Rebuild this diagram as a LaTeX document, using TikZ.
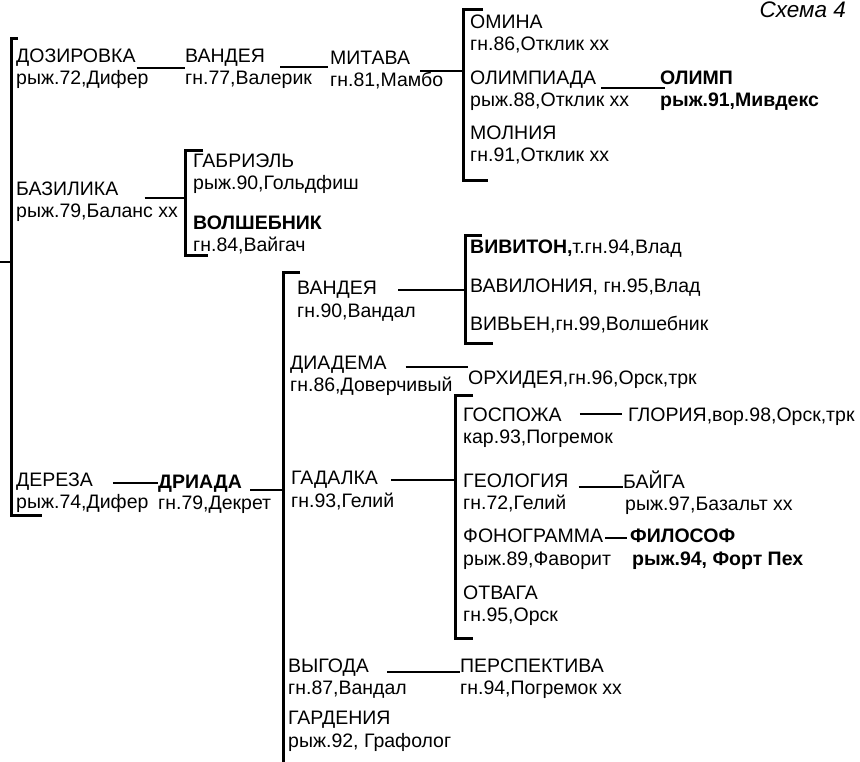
\documentclass[tikz,border=0pt]{standalone}
\usepackage{fontspec}
\setmainfont{Liberation Sans}

\begin{document}
\begin{tikzpicture}[x=1pt, y=-1pt, horse/.style={anchor=base west, inner sep=0pt, font=\fontsize{19.5}{22}\selectfont}, champ/.style={horse, font=\fontsize{19.5}{22}\selectfont\bfseries}, link/.style={line width=2.8pt}, bracket/.style={line width=3pt}]
\useasboundingbox (0,0) rectangle (860,761);
% nodes
\node[anchor=base east, inner sep=0pt, font=\fontsize{22.5}{24}\selectfont\itshape] (caption) at (846,17) {Схема 4};
\node[horse] (dozirovka) at (16,62) {ДОЗИРОВКА};
\node[horse] (dozirovka-i) at ([yshift=-22pt]dozirovka.base west) {рыж.72,Дифер};
\node[horse] (vandeya) at (185,62) {ВАНДЕЯ};
\node[horse] (vandeya-i) at ([yshift=-22pt]vandeya.base west) {гн.77,Валерик};
\node[horse] (mitava) at (330,64) {МИТАВА};
\node[horse] (mitava-i) at ([yshift=-22pt]mitava.base west) {гн.81,Мамбо};
\node[horse] (omina) at (470,28) {ОМИНА};
\node[horse] (omina-i) at ([yshift=-22pt]omina.base west) {гн.86,Отклик хх};
\node[horse] (olimpiada) at (470,84) {ОЛИМПИАДА};
\node[horse] (olimpiada-i) at ([yshift=-22pt]olimpiada.base west) {рыж.88,Отклик хх};
\node[horse] (molniya) at (470,139) {МОЛНИЯ};
\node[horse] (molniya-i) at ([yshift=-22pt]molniya.base west) {гн.91,Отклик хх};
\node[champ] (olimp) at (660,84) {ОЛИМП};
\node[champ] (olimp-i) at ([yshift=-22pt]olimp.base west) {рыж.91,Мивдекс};
\node[horse] (bazilika) at (16,195) {БАЗИЛИКА};
\node[horse] (bazilika-i) at ([yshift=-22pt]bazilika.base west) {рыж.79,Баланс хх};
\node[horse] (gabriel) at (193,167) {ГАБРИЭЛЬ};
\node[horse] (gabriel-i) at ([yshift=-22pt]gabriel.base west) {рыж.90,Гольдфиш};
\node[champ] (volshebnik) at (193,229) {ВОЛШЕБНИК};
\node[horse] (volshebnik-i) at ([yshift=-22pt]volshebnik.base west) {гн.84,Вайгач};
\node[horse] (dereza) at (16,486) {ДЕРЕЗА};
\node[horse] (dereza-i) at ([yshift=-22pt]dereza.base west) {рыж.74,Дифер};
\node[champ] (driada) at (158,488) {ДРИАДА};
\node[horse] (driada-i) at ([yshift=-21pt]driada.base west) {гн.79,Декрет};
\node[horse] (vandeya2) at (297,294) {ВАНДЕЯ};
\node[horse] (vandeya2-i) at ([yshift=-23pt]vandeya2.base west) {гн.90,Вандал};
\node[horse] (vivitn) at (470,253) {\textbf{ВИВИТОН,}т.гн.94,Влад};
\node[horse] (vavilon) at (470,292) {ВАВИЛОНИЯ, гн.95,Влад};
\node[horse] (vivien) at (470,330) {ВИВЬЕН,гн.99,Волшебник};
\node[horse] (diadema) at (290,369) {ДИАДЕМА};
\node[horse] (diadema-i) at ([yshift=-22pt]diadema.base west) {гн.86,Доверчивый};
\node[horse] (orkhideya) at (468,384) {ОРХИДЕЯ,гн.96,Орск,трк};
\node[horse] (gadalka) at (291,484) {ГАДАЛКА};
\node[horse] (gadalka-i) at ([yshift=-23pt]gadalka.base west) {гн.93,Гелий};
\node[horse] (gospozha) at (463,421) {ГОСПОЖА};
\node[horse] (gospozha-i) at ([yshift=-22pt]gospozha.base west) {кар.93,Погремок};
\node[horse] (gloriya) at (628,421) {ГЛОРИЯ,вор.98,Орск,трк};
\node[horse] (geologiya) at (463,487) {ГЕОЛОГИЯ};
\node[horse] (geologiya-i) at ([yshift=-22pt]geologiya.base west) {гн.72,Гелий};
\node[horse] (baiga) at (623,488) {БАЙГА};
\node[horse] (baiga-i) at ([xshift=2pt, yshift=-22pt]baiga.base west) {рыж.97,Базальт хх};
\node[horse] (fonogramma) at (463,542) {ФОНОГРАММА};
\node[horse] (fonogramma-i) at ([yshift=-23pt]fonogramma.base west) {рыж.89,Фаворит};
\node[champ] (filosof) at (630,542) {ФИЛОСОФ};
\node[champ] (filosof-i) at ([xshift=2pt, yshift=-23pt]filosof.base west) {рыж.94, Форт Пех};
\node[horse] (otvaga) at (463,599) {ОТВАГА};
\node[horse] (otvaga-i) at ([yshift=-22pt]otvaga.base west) {гн.95,Орск};
\node[horse] (vygoda) at (288,672) {ВЫГОДА};
\node[horse] (vygoda-i) at ([yshift=-22pt]vygoda.base west) {гн.87,Вандал};
\node[horse] (perspektiva) at (460,672) {ПЕРСПЕКТИВА};
\node[horse] (perspektiva-i) at ([yshift=-22pt]perspektiva.base west) {гн.94,Погремок хх};
\node[horse] (gardeniya) at (288,724) {ГАРДЕНИЯ};
\node[horse] (gardeniya-i) at ([yshift=-23pt]gardeniya.base west) {рыж.92, Графолог};
% brackets
\coordinate (root-br) at (11,262);
\coordinate (mitava-br) at (463,71);
\coordinate (bazilika-br) at (185,198);
\coordinate (driada-br) at (283,490);
\coordinate (vandeya2-br) at (465,290);
\coordinate (gadalka-br) at (455,480);
\draw[bracket] (18,38) -- (11,38) -- (11,515) -- (42,515);
\draw[bracket] (483,9) -- (463,9) -- (463,180) -- (488,180);
\draw[bracket] (203,150) -- (185,150) -- (185,255) -- (208,255);
\draw[bracket] (300,272) -- (283,272) -- (283,765);
\draw[bracket] (482,235) -- (465,235) -- (465,343) -- (493,343);
\draw[bracket] (473,395) -- (455,395) -- (455,638) -- (473,638);
% edges
\draw[link] (0,262) -- (root-br);
\draw[link, shorten <=1pt] ([yshift=-6pt]dozirovka.base east) -- ([yshift=-6pt]dozirovka.base east -| vandeya.west);
\draw[link, shorten <=15pt, shorten >=2pt] ([yshift=-5pt]vandeya.base east) -- ([yshift=-5pt]vandeya.base east -| mitava.west);
\draw[link, shorten <=10pt] ([yshift=-7pt]mitava.base east) -- ([yshift=-7pt]mitava.base east -| mitava-br);
\draw[link, shorten <=5pt, shorten >=-5pt] ([yshift=-4pt]olimpiada.base east) -- ([yshift=-4pt]olimpiada.base east -| olimp.west);
\draw[link, shorten <=26pt] ([yshift=-3pt]bazilika.base east) -- ([yshift=-3pt]bazilika.base east -| bazilika-br);
\draw[link, shorten <=20pt] ([yshift=3pt]dereza.base east) -- ([yshift=3pt]dereza.base east -| driada.west);
\draw[link, shorten <=8pt] ([yshift=-2pt]driada.base east) -- ([yshift=-2pt]driada.base east -| driada-br);
\draw[link, shorten <=21pt] ([yshift=4pt]vandeya2.base east) -- ([yshift=4pt]vandeya2.base east -| vandeya2-br);
\draw[link, shorten <=19pt] ([yshift=2pt]diadema.base east) -- ([yshift=2pt]diadema.base east -| orkhideya.west);
\draw[link, shorten <=13pt] ([yshift=4pt]gadalka.base east) -- ([yshift=4pt]gadalka.base east -| gadalka-br);
\draw[link, shorten <=18pt, shorten >=6pt] ([yshift=7pt]gospozha.base east) -- ([yshift=7pt]gospozha.base east -| gloriya.west);
\draw[link, shorten <=10pt] (geologiya.base east) -- (geologiya.base east -| baiga.west);
\draw[link, shorten <=2pt, shorten >=3pt] ([yshift=4pt]fonogramma.base east) -- ([yshift=4pt]fonogramma.base east -| filosof.west);
\draw[link, shorten <=18pt] (vygoda.base east) -- (vygoda.base east -| perspektiva.west);
\end{tikzpicture}
\end{document}
